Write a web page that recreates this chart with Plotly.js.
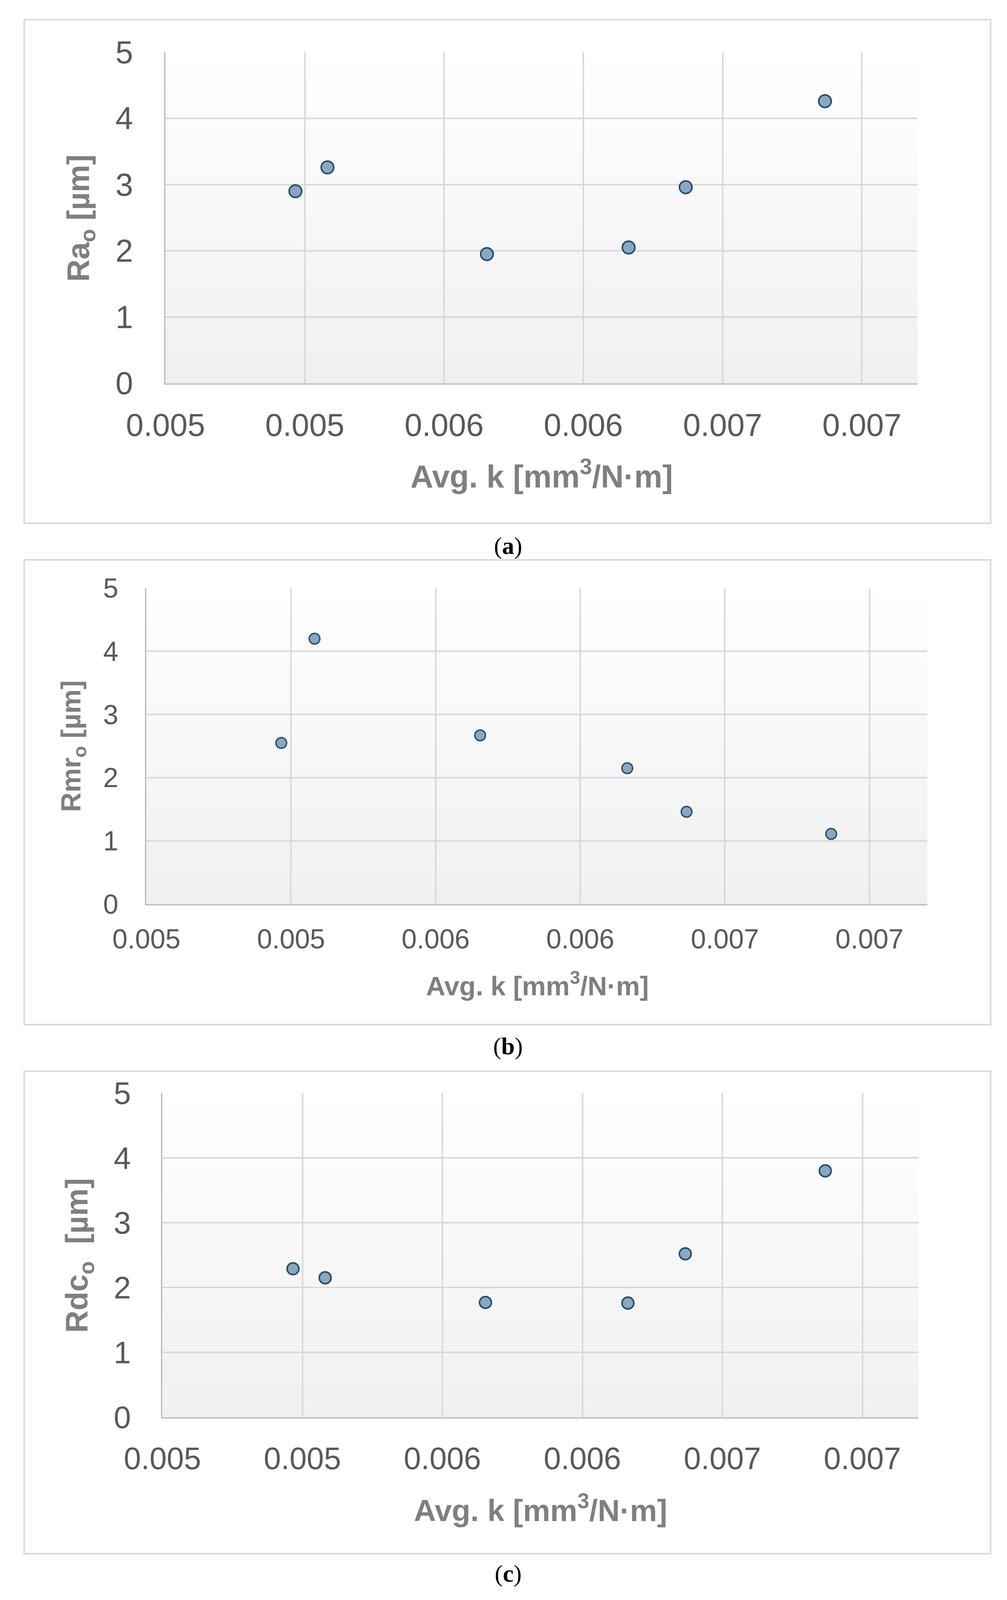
<!DOCTYPE html>
<html lang="en">
<head>
<meta charset="UTF-8">
<title>Avg. k vs Ra0 / Rmr0 / Rdc0</title>
<script src="https://cdn.plot.ly/plotly-3.0.1.min.js"></script>
<style>
  html, body { margin: 0; padding: 0; background: #ffffff; overflow: hidden; }
</style>
</head>
<body>
<div id="chart"></div>
<script>
// values
var kValues   = [0.005373, 0.005465, 0.005923, 0.006330, 0.006494, 0.006894];
var raValues  = [2.90, 3.26, 1.95, 2.05, 2.96, 4.26];
var rmrValues = [2.55, 4.20, 2.67, 2.15, 1.46, 1.11];
var rdcValues = [2.29, 2.15, 1.77, 1.76, 2.52, 3.80];

var xTickVals = [0.0050, 0.0054, 0.0058, 0.0062, 0.0066, 0.0070];
var xTickText = ['0.005', '0.005', '0.006', '0.006', '0.007', '0.007'];
var yTickVals = [0, 1, 2, 3, 4, 5];

var yTitles  = ['Ra<sub>o</sub> [µm]', 'Rmr<sub>o</sub> [µm]', 'Rdc<sub>o</sub>  [µm]'];
var xTitle   = 'Avg. k [mm<sup>3</sup>/N·m]';
var captions = ['(<b>a</b>)', '(<b>b</b>)', '(<b>c</b>)'];
var series   = [raValues, rmrValues, rdcValues];

// geometry measured on the 2579 x 4630 figure; the page is fitted to the window
var W = 2579, H = 4630;
var VW = window.innerWidth || W;
var VH = Math.min(window.innerHeight || H, H);
var sx = VW / W, sy = VH / H, fs = (sx + sy) / 2;
function px(x) { return x / W; }
function py(y) { return 1 - y / H; }

var panels = [
  { box: [62, 57, 2537, 1514], plot: [424, 151, 2350, 1109], tick: 86, ystand: 63, xstand: 38,
    xt: [1387, 1372, 86], yt: [206, 631, 84], cap: 1580, msize: 34, mline: 4 },
  { box: [62, 1620, 2537, 2965], plot: [375, 1702, 2375, 2616], tick: 74, ystand: 54, xstand: 29,
    xt: [1376, 2847, 73], yt: [187, 2160, 74], cap: 3028, msize: 29, mline: 3.5 },
  { box: [62, 3100, 2537, 4496], plot: [416, 3163, 2352, 4101], tick: 84, ystand: 61, xstand: 38,
    xt: [1384, 4364, 83], yt: [203, 3633, 84], cap: 4554, msize: 32, mline: 4 }
];

var fontFamily = '"Liberation Sans", Arial, sans-serif';
var traces = [];
var shapes = [];
var annotations = [];
var layout = {
  width: VW, height: VH,
  margin: { l: 0, r: 0, t: 0, b: 0 },
  paper_bgcolor: '#ffffff',
  plot_bgcolor: 'rgba(0,0,0,0)',
  showlegend: false,
  font: { family: fontFamily, color: '#595959' }
};

function mix(t) {
  // white at top to light grey at bottom
  var c = Math.round(255 - t * 15);
  return 'rgb(' + c + ',' + c + ',' + c + ')';
}

panels.forEach(function (p, i) {
  var n = i === 0 ? '' : String(i + 1);
  var xa = 'x' + n, ya = 'y' + n;

  traces.push({
    x: kValues, y: series[i], xaxis: xa, yaxis: ya,
    type: 'scatter', mode: 'markers', hoverinfo: 'x+y',
    marker: { size: p.msize * fs, color: '#8da6bf', line: { color: '#1e4d6b', width: p.mline } }
  });

  layout['xaxis' + n] = {
    domain: [px(p.plot[0]), px(p.plot[2])], anchor: ya,
    range: [0.0050, 0.00716], tickvals: xTickVals, ticktext: xTickText,
    showgrid: true, gridcolor: '#d9d9d9', gridwidth: 4,
    showline: true, linecolor: '#c4c4c4', linewidth: 4,
    zeroline: false, ticks: '', ticklabelstandoff: Math.round(p.xstand * sy),
    tickfont: { family: fontFamily, size: p.tick * fs, color: '#595959' }
  };
  layout['yaxis' + n] = {
    domain: [py(p.plot[3]), py(p.plot[1])], anchor: xa,
    range: [0, 5], tickvals: yTickVals,
    showgrid: true, gridcolor: '#d9d9d9', gridwidth: 4,
    showline: true, linecolor: '#c4c4c4', linewidth: 4,
    zeroline: false, ticks: '', ticklabelstandoff: Math.round(p.ystand * sx),
    tickfont: { family: fontFamily, size: p.tick * fs, color: '#595959' }
  };

  // soft vertical gradient in the plot area
  var bands = 40;
  for (var b = 0; b < bands; b++) {
    shapes.push({
      type: 'rect', xref: xa + ' domain', yref: ya + ' domain', layer: 'below',
      x0: 0, x1: 1, y0: 1 - (b + 1) / bands, y1: 1 - b / bands,
      line: { width: 0 }, fillcolor: mix((b + 0.5) / bands)
    });
  }

  // chart frame
  shapes.push({
    type: 'rect', xref: 'paper', yref: 'paper',
    x0: px(p.box[0]), x1: px(p.box[2]), y0: py(p.box[3]), y1: py(p.box[1]),
    line: { color: '#d9d9d9', width: 4 }, fillcolor: 'rgba(0,0,0,0)'
  });

  annotations.push({
    text: xTitle, xref: 'paper', yref: 'paper', showarrow: false,
    x: px(p.xt[0]), y: py(p.xt[1]), xanchor: 'center', yanchor: 'middle',
    font: { family: fontFamily, size: p.xt[2] * fs, color: '#7f7f7f', weight: 'bold' }
  });
  annotations.push({
    text: yTitles[i], xref: 'paper', yref: 'paper', showarrow: false, textangle: -90,
    x: px(p.yt[0]), y: py(p.yt[1]), xanchor: 'center', yanchor: 'middle',
    font: { family: fontFamily, size: p.yt[2] * fs, color: '#7f7f7f', weight: 'bold' }
  });
  annotations.push({
    text: captions[i], xref: 'paper', yref: 'paper', showarrow: false,
    x: px(1301), y: py(p.cap), xanchor: 'center', yanchor: 'middle',
    font: { family: '"Liberation Serif", "Times New Roman", serif', size: 66 * fs, color: '#000000' }
  });
});

layout.shapes = shapes;
layout.annotations = annotations;

Plotly.newPlot('chart', traces, layout, { staticPlot: true });
</script>
</body>
</html>
